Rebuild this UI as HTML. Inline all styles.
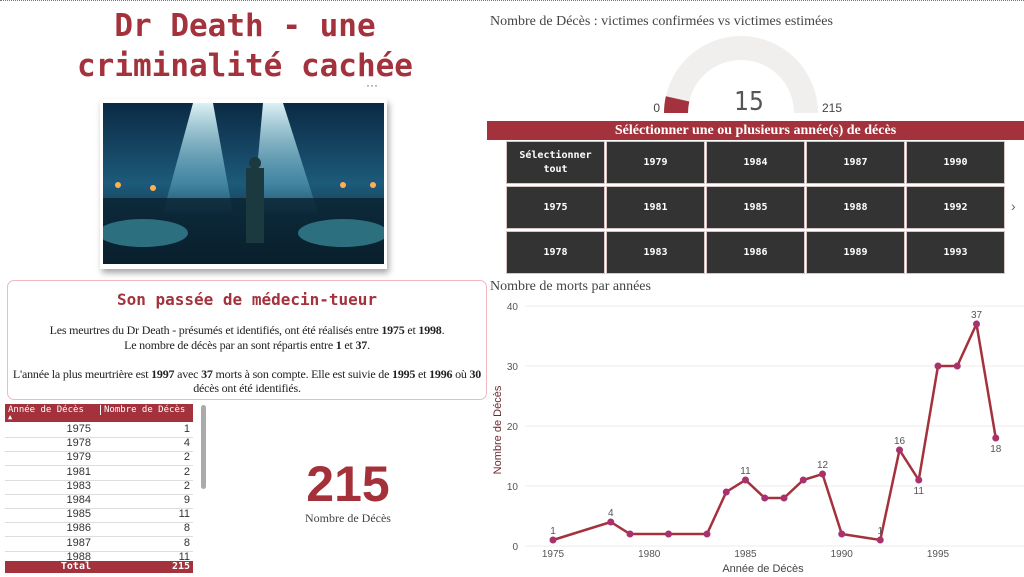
<!DOCTYPE html>
<html><head><meta charset="utf-8">
<style>
body{margin:0;width:1024px;height:577px;background:#fff;position:relative;overflow:hidden;font-family:"Liberation Sans",sans-serif}
.abs{position:absolute}
.mono{font-family:"DejaVu Sans Mono","Liberation Mono",monospace}
.serif{font-family:"Liberation Serif",serif}
.cell{position:absolute;background:#333;color:#fff;font-family:"DejaVu Sans Mono",monospace;font-size:10px;font-weight:bold;display:flex;align-items:center;justify-content:center;text-align:center;line-height:14px;outline:1px solid #d9c4c4}
.tr{position:absolute;left:5px;width:188px;height:14px;border-bottom:1px solid #ddd;font-size:11px;color:#333}
.tr span{position:absolute;text-align:right}
</style></head><body>
<div class="abs" style="left:0;top:0;width:1024px;border-top:1px dotted #777"></div>

<div class="abs mono" style="left:30px;top:6px;width:430px;text-align:center;color:#a4323c;font-size:31px;font-weight:bold;line-height:40px">Dr Death - une<br>criminalité cachée</div>
<div class="abs" style="left:366px;top:78px;font-size:12px;color:#555">···</div>

<div class="abs" style="left:100px;top:99px;width:287px;height:170px;background:#fff;box-shadow:2px 4px 6px rgba(0,0,0,.35)">
<svg width="281" height="161" style="position:absolute;left:3px;top:4px">
<defs><linearGradient id="bg" x1="0" y1="0" x2="0" y2="1"><stop offset="0" stop-color="#0b2a44"/><stop offset=".5" stop-color="#1d5a7a"/><stop offset="1" stop-color="#061520"/></linearGradient>
<linearGradient id="beam" x1="0" y1="0" x2="0" y2="1"><stop offset="0" stop-color="#e8fbff" stop-opacity=".95"/><stop offset="1" stop-color="#6fd6f0" stop-opacity=".1"/></linearGradient></defs>
<rect width="281" height="161" fill="url(#bg)"/>
<polygon points="90,0 110,0 130,110 60,110" fill="url(#beam)"/>
<polygon points="160,0 180,0 215,110 150,110" fill="url(#beam)"/>
<rect x="0" y="95" width="281" height="66" fill="#0a2230" opacity=".8"/>
<ellipse cx="40" cy="130" rx="45" ry="14" fill="#2c6f7f"/>
<ellipse cx="240" cy="130" rx="45" ry="14" fill="#2c6f7f"/>
<rect x="143" y="65" width="18" height="75" fill="#1b3a40"/>
<circle cx="152" cy="60" r="6" fill="#1b3a40"/>
<circle cx="15" cy="82" r="3" fill="#ffb050"/><circle cx="50" cy="85" r="3" fill="#ffb050"/><circle cx="240" cy="82" r="3" fill="#ffb050"/><circle cx="270" cy="82" r="3" fill="#ffb050"/>
</svg></div>

<div class="abs" style="left:7px;top:280px;width:478px;height:118px;border:1px solid #f0b8c0;border-radius:7px">
<div class="mono" style="position:absolute;top:9px;width:100%;text-align:center;color:#a4323c;font-size:16px;font-weight:bold">Son passée de médecin-tueur</div>
<div class="serif" style="position:absolute;top:42px;left:1px;right:1px;text-align:center;font-size:12px;line-height:14.5px;color:#222;letter-spacing:-0.2px">Les meurtres du Dr Death - présumés et identifiés, ont été réalisés entre <b>1975</b> et <b>1998</b>.<br>Le nombre de décès par an sont répartis entre <b>1</b> et <b>37</b>.<br><br>L'année la plus meurtrière est <b>1997</b> avec <b>37</b> morts à son compte. Elle est suivie de <b>1995</b> et <b>1996</b> où <b>30</b> décès ont été identifiés.</div>
</div>

<div class="abs mono" style="left:5px;top:404px;width:188px;height:18px;background:#a4323c;color:#fff;font-size:9px;white-space:nowrap">
<span style="position:absolute;left:3px;top:1px">Année de Décès</span>
<span style="position:absolute;left:3px;top:9px;font-size:7px">▲</span>
<span style="position:absolute;left:95px;top:1px;border-left:1px solid #fff;padding-left:3px">Nombre de Décès</span></div>
<div id="tbody"></div>
<div class="abs mono" style="left:5px;top:561px;width:188px;height:12px;background:#a4323c;color:#fff;font-size:10px;font-weight:bold;line-height:12px">
<span style="position:absolute;right:102px">Total</span><span style="position:absolute;right:3px">215</span></div>
<div class="abs" style="left:201px;top:405px;width:5px;height:84px;background:#aaa;border-radius:3px"></div>

<div class="abs" style="left:250px;top:456px;width:196px;text-align:center;color:#a4303a;font-size:50px;font-weight:bold;line-height:56px">215</div>
<div class="abs serif" style="left:250px;top:511px;width:196px;text-align:center;color:#444;font-size:12px">Nombre de Décès</div>

<div class="abs serif" style="left:490px;top:14px;color:#444;font-size:14px">Nombre de Décès : victimes confirmées vs victimes estimées</div>
<svg class="abs" style="left:487px;top:20px" width="537" height="100" id="gauge"></svg>

<div class="abs serif" style="left:487px;top:121px;width:537px;height:19px;background:#a4323c;color:#fff;font-size:14px;font-weight:bold;text-align:center;line-height:19px">Séléctionner une ou plusieurs année(s) de décès</div>
<div id="slicer"></div>
<div class="abs" style="left:1011px;top:198px;color:#666;font-size:14px">›</div>

<div class="abs serif" style="left:490px;top:279px;color:#444;font-size:14px">Nombre de morts par années</div>
<svg class="abs" style="left:487px;top:295px" width="537" height="282" id="chart"></svg>

<script>
const years=[1975,1978,1979,1981,1983,1984,1985,1986,1987,1988,1989,1990,1992,1993,1994,1995,1996,1997,1998];
const deaths=[1,4,2,2,2,9,11,8,8,11,12,2,1,16,11,30,30,37,18];
const labelYears=[1975,1978,1985,1989,1992,1993,1994,1997,1998];
const yTicks=[0,10,20,30,40];
const xTicks=[1975,1980,1985,1990,1995];
const slicerCols=[["Sélectionner tout","1975","1978"],["1979","1981","1983"],["1984","1985","1986"],["1987","1988","1989"],["1990","1992","1993"]];
const gaugeValue=15, gaugeMax=215;
const NS="http://www.w3.org/2000/svg";
function mk(p,t,a){const e=document.createElementNS(NS,t);for(const k in a)e.setAttribute(k,a[k]);p.appendChild(e);return e;}

const tb=document.getElementById('tbody');
years.slice(0,10).forEach((y,i)=>{const r=document.createElement('div');r.className='tr';r.style.top=(423+i*14.2)+'px';


r.innerHTML='<span style="right:102px">'+y+'</span><span style="right:3px">'+deaths[i]+'</span>';tb.appendChild(r);});

const sl=document.getElementById('slicer');
const cx=[507,607,707,807,907],cy=[142,187,232];
slicerCols.forEach((col,c)=>col.forEach((t,r)=>{const d=document.createElement('div');d.className='cell';
d.style.left=cx[c]+'px';d.style.top=cy[r]+'px';d.style.width='97px';d.style.height='41px';d.textContent=t;


sl.appendChild(d);}));

const g=document.getElementById('gauge');
const gx=254,gy=93,R=77,r0=53;
function arc(a0,a1){const p=(a,rr)=>[gx+rr*Math.cos(a),gy-rr*Math.sin(a)];
const [x1,y1]=p(a0,R),[x2,y2]=p(a1,R),[x3,y3]=p(a1,r0),[x4,y4]=p(a0,r0);
return `M${x1},${y1}A${R},${R} 0 0 1 ${x2},${y2}L${x3},${y3}A${r0},${r0} 0 0 0 ${x4},${y4}Z`;}
let e=mk(g,'path',{d:arc(Math.PI,0),fill:'#f0efee'});


e=mk(g,'path',{d:arc(Math.PI,Math.PI*(1-gaugeValue/gaugeMax)),fill:'#a4323c'});


e=mk(g,'text',{x:gx+8,y:gy-3,'text-anchor':'middle','font-size':26,fill:'#555','font-family':'DejaVu Sans Condensed, sans-serif','font-weight':'300'});e.textContent=gaugeValue;


e=mk(g,'text',{x:gx-R-4,y:gy-1,'text-anchor':'end','font-size':12,fill:'#444'});e.textContent='0';


e=mk(g,'text',{x:gx+R+4,y:gy-1,'font-size':12,fill:'#444'});e.textContent=gaugeMax;



const c=document.getElementById('chart');
const X=y=>66+(y-1975)*19.25, Y=v=>251-v*6;
yTicks.forEach(t=>{let l=mk(c,'line',{x1:38,x2:537,y1:Y(t),y2:Y(t),stroke:'#eee'});


let tx=mk(c,'text',{x:31,y:Y(t)+4,'text-anchor':'end','font-size':10,fill:'#555'});tx.textContent=t;

});
xTicks.forEach(t=>{let tx=mk(c,'text',{x:X(t),y:262,'text-anchor':'middle','font-size':10,fill:'#555'});tx.textContent=t;

});
e=mk(c,'text',{x:276,y:277,'text-anchor':'middle','font-size':11,fill:'#444'});e.textContent='Année de Décès';


e=mk(c,'text',{x:0,y:0,'text-anchor':'middle','font-size':11,fill:'#6b2a30',transform:'translate(14,135) rotate(-90)'});e.textContent='Nombre de Décès';


e=mk(c,'polyline',{points:years.map((y,i)=>X(y)+','+Y(deaths[i])).join(' '),fill:'none',stroke:'#a4323c','stroke-width':2.5});


years.forEach((y,i)=>{let p=mk(c,'circle',{cx:X(y),cy:Y(deaths[i]),r:3.5,fill:'#a8316e'});


if(labelYears.includes(y)){const below=(y===1994||y===1998);
let t=mk(c,'text',{x:X(y),y:below?Y(deaths[i])+14:Y(deaths[i])-6,'text-anchor':'middle','font-size':10,fill:'#555'});t.textContent=deaths[i];

}});
</script>
</body></html>
